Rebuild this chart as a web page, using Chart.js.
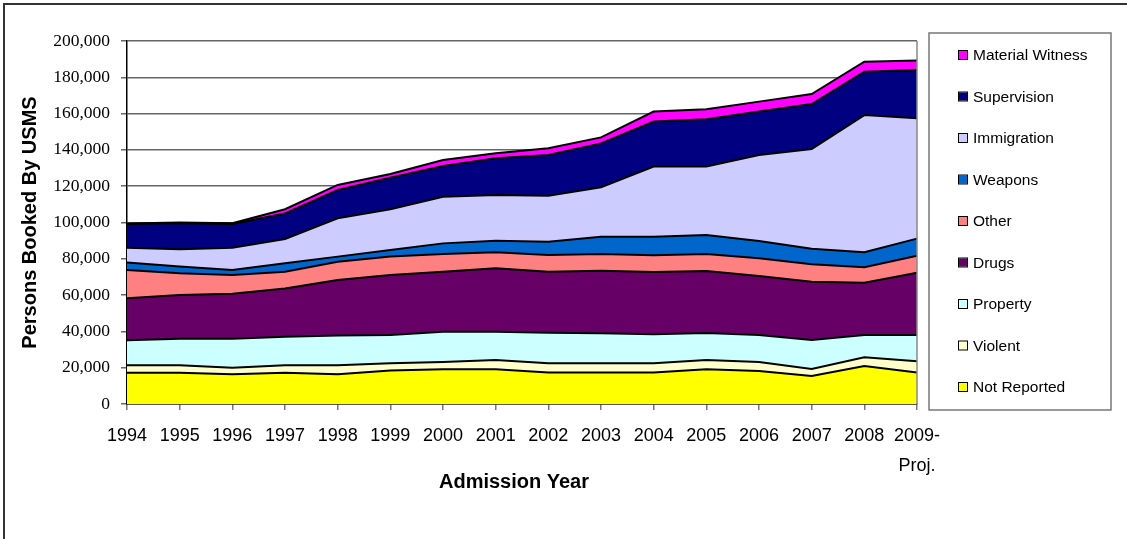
<!DOCTYPE html>
<html>
<head>
<meta charset="utf-8">
<title>Persons Booked By USMS</title>
<script src="https://cdn.jsdelivr.net/npm/chart.js@4/dist/chart.umd.min.js"></script>
<style>
  html, body { margin: 0; padding: 0; background: #fff; overflow: hidden; }
  #wrap { width: 1127px; height: 539px; }
</style>
</head>
<body>
<div id="wrap"><canvas id="myChart" width="1127" height="539"></canvas></div>
<script>
// admission years (last one is a projection)
var years = ['1994','1995','1996','1997','1998','1999','2000','2001','2002','2003','2004','2005','2006','2007','2008',['2009-','Proj.']];

// persons booked, by offense type (stacked from the bottom up)
var notReported     = [17200,17200,16400,17200,16400,18400,19100,19100,17300,17300,17300,19100,18200,15400,20900,17300];
var violent         = [4100,4100,3600,4100,4900,4000,4000,5100,5100,5100,5100,5100,4900,3900,4800,6200];
var property        = [13800,14700,16000,15800,16500,15600,16700,15600,16900,16600,16000,14900,14900,16000,12300,14500];
var drugs           = [23100,24100,24800,26600,30500,33100,33100,35000,33600,34400,34300,34200,32500,32100,28800,34300];
var other           = [15600,11900,10300,9200,10100,10100,9800,8800,9200,9300,9200,9400,9800,9600,8500,9400];
var weapons         = [4100,3700,2700,4600,2800,3700,5800,6400,7300,9500,10300,10400,9500,8600,8300,9400];
var immigration     = [8200,9500,12300,13400,21100,22400,25700,25200,25400,27200,38600,37700,47400,54900,75600,66300];
var supervision     = [13100,14400,13100,14100,15600,17400,16900,20200,22400,24200,24800,26100,23900,24800,23900,26600];
var materialWitness = [300,400,400,2300,2800,2000,3300,2700,3700,3300,5500,5500,5500,5500,5500,5200];

var yTicks = [0,20000,40000,60000,80000,100000,120000,140000,160000,180000,200000];

var series = [
  { label: 'Not Reported',     data: notReported,     color: '#FFFF00' },
  { label: 'Violent',          data: violent,         color: '#FFFFCC' },
  { label: 'Property',         data: property,        color: '#CCFFFF' },
  { label: 'Drugs',            data: drugs,           color: '#660066' },
  { label: 'Other',            data: other,           color: '#FF8080' },
  { label: 'Weapons',          data: weapons,         color: '#0066CC' },
  { label: 'Immigration',      data: immigration,     color: '#CCCCFF' },
  { label: 'Supervision',      data: supervision,     color: '#000080' },
  { label: 'Material Witness', data: materialWitness, color: '#FF00FF' }
];

var datasets = series.map(function(s, i) {
  return {
    label: s.label,
    data: s.data,
    backgroundColor: s.color,
    borderColor: '#000',
    borderWidth: 2,
    fill: i == 0 ? 'origin' : '-1',
    pointRadius: 0,
    tension: 0
  };
});

// frame, plot border, axis titles and the boxed legend
var extras = {
  id: 'extras',
  beforeDraw: function(chart) {
    var ctx = chart.ctx;
    ctx.save();
    ctx.fillStyle = '#fff';
    ctx.fillRect(0, 0, chart.width, chart.height);
    ctx.restore();
  },
  afterDraw: function(chart) {
    var ctx = chart.ctx;
    var area = chart.chartArea;
    ctx.save();

    // outer frame (top and left edges)
    ctx.strokeStyle = '#333';
    ctx.lineWidth = 2;
    ctx.beginPath();
    ctx.moveTo(4, chart.height);
    ctx.lineTo(4, 4);
    ctx.lineTo(chart.width, 4);
    ctx.stroke();

    // right edge of the plot
    ctx.strokeStyle = '#888';
    ctx.lineWidth = 1.5;
    ctx.beginPath();
    ctx.moveTo(area.right, area.top);
    ctx.lineTo(area.right, area.bottom);
    ctx.stroke();

    // axis titles
    ctx.fillStyle = '#000';
    ctx.font = 'bold 20px "Liberation Sans", Arial, sans-serif';
    ctx.textAlign = 'center';
    ctx.textBaseline = 'middle';
    ctx.fillText('Admission Year', 514, 482);
    ctx.save();
    ctx.translate(30, (area.top + area.bottom) / 2);
    ctx.rotate(-Math.PI / 2);
    ctx.fillText('Persons Booked By USMS', 0, 0);
    ctx.restore();

    // legend box
    ctx.strokeStyle = '#777';
    ctx.lineWidth = 1.5;
    ctx.strokeRect(929, 33, 182, 377);
    ctx.font = '15.5px "Liberation Sans", Arial, sans-serif';
    ctx.textAlign = 'left';
    for (var i = 0; i < series.length; i++) {
      var s = series[series.length - 1 - i];
      var cy = 55 + i * 41.5;
      ctx.fillStyle = s.color;
      ctx.fillRect(959, cy - 4, 8, 8);
      ctx.strokeStyle = '#000';
      ctx.lineWidth = 1;
      ctx.strokeRect(958.5, cy - 4.5, 9, 9);
      ctx.fillStyle = '#000';
      ctx.fillText(s.label, 973, cy + 1);
    }
    ctx.restore();
  }
};

var ctx = document.getElementById('myChart').getContext('2d');
var chart = new Chart(ctx, {
  type: 'line',
  data: { labels: years, datasets: datasets },
  options: {
    responsive: false,
    animation: false,
    layout: { padding: { left: 0, top: 41, right: 210, bottom: 0 } },
    plugins: {
      legend: { display: false },
      tooltip: { enabled: false }
    },
    scales: {
      x: {
        offset: false,
        afterFit: function(scale) { scale.height = 135; },
        grid: { drawOnChartArea: false, drawTicks: true, tickLength: 6, color: '#777', lineWidth: 1.5 },
        border: { color: '#000', width: 1.5 },
        ticks: {
          autoSkip: false,
          maxRotation: 0,
          padding: 11,
          color: '#000',
          font: { family: '"Liberation Sans", Arial, sans-serif', size: 18, lineHeight: 1.65 }
        }
      },
      y: {
        stacked: true,
        min: 0,
        max: 200000,
        afterFit: function(scale) { scale.width = 127; },
        afterBuildTicks: function(scale) {
          scale.ticks = yTicks.map(function(v) { return { value: v }; });
        },
        grid: { color: '#666', lineWidth: 1.5, tickLength: 6 },
        border: { color: '#000', width: 1.5 },
        ticks: {
          padding: 11,
          color: '#000',
          font: { family: '"Liberation Serif", "Times New Roman", serif', size: 17.5 },
          callback: function(v) { return v.toLocaleString('en-US'); }
        }
      }
    }
  },
  plugins: [extras]
});
</script>
</body>
</html>
